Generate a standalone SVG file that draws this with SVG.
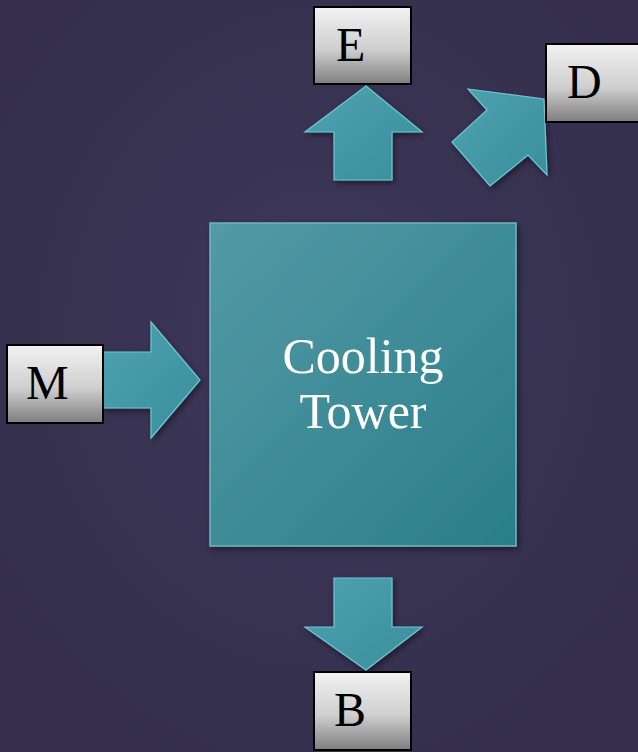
<svg xmlns="http://www.w3.org/2000/svg" width="638" height="752" viewBox="0 0 638 752">
<defs>
<style>
.lbl{font-family:"Liberation Serif","Times New Roman",serif;font-size:48px;fill:#000}
.main{font-family:"Liberation Serif","Times New Roman",serif;font-size:50px;fill:#fff;text-anchor:middle}
.box{fill:url(#gBox);stroke:#000;stroke-width:2}
.arr{fill:url(#gArr);stroke:#6fc6d3;stroke-width:1.2;stroke-linejoin:miter;filter:url(#sh)}
</style>
<radialGradient id="bg" cx="50%" cy="45%" r="75%">
<stop offset="0" stop-color="#3e3859"/>
<stop offset="1" stop-color="#332d4b"/>
</radialGradient>
<linearGradient id="gBox" x1="0" y1="0" x2="0" y2="1">
<stop offset="0" stop-color="#f2f2f2"/>
<stop offset="0.55" stop-color="#cfcfcf"/>
<stop offset="1" stop-color="#7e7e7e"/>
</linearGradient>
<linearGradient id="gMain" x1="0" y1="0" x2="1" y2="1">
<stop offset="0" stop-color="#539aa6"/>
<stop offset="1" stop-color="#2a7e89"/>
</linearGradient>
<linearGradient id="gArr" x1="0" y1="0" x2="1" y2="1">
<stop offset="0" stop-color="#4ea2b0"/>
<stop offset="1" stop-color="#3a8e9c"/>
</linearGradient>
<filter id="sh" x="-20%" y="-20%" width="140%" height="140%">
<feDropShadow dx="2" dy="3" stdDeviation="3" flood-color="#000" flood-opacity="0.45"/>
</filter>
</defs>
<rect width="638" height="752" fill="url(#bg)"/>
<g id="connectors">
<polygon id="arrow-E" class="arr" points="366,86 422,132 392,132 392,180 334,180 334,132 305,132"/>
<polygon id="arrow-D" class="arr" points="468,89 544,99 547,175 528,155 490,186 452,142 487,110"/>
<polygon id="arrow-M" class="arr" points="103,352 151,352 151,322 200,380 151,438 151,408 103,408"/>
<polygon id="arrow-B" class="arr" points="334,578 392,578 392,627 422,627 366,670 305,627 334,627"/>
</g>
<g id="node-tower">
<rect x="210" y="223" width="306" height="323" fill="url(#gMain)" stroke="#6cb6c0" stroke-width="1.5" filter="url(#sh)"/>
<text class="main" x="363" y="373">Cooling</text>
<text class="main" x="363" y="428">Tower</text>
</g>
<g id="node-E">
<rect class="box" x="314" y="7" width="97" height="77"/>
<text class="lbl" x="336" y="61">E</text>
</g>
<g id="node-D">
<rect class="box" x="546" y="44" width="96" height="78"/>
<text class="lbl" x="567" y="98">D</text>
</g>
<g id="node-M">
<rect class="box" x="7" y="345" width="96" height="78"/>
<text class="lbl" x="26" y="399">M</text>
</g>
<g id="node-B">
<rect class="box" x="314" y="672" width="97" height="78"/>
<text class="lbl" x="334" y="726">B</text>
</g>
</svg>
